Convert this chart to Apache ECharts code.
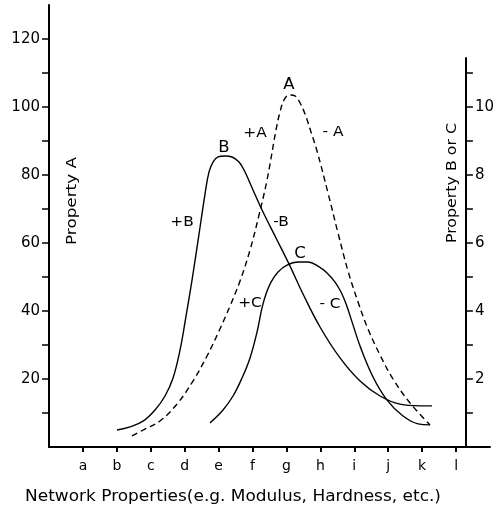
<!DOCTYPE html>
<html>
<head>
<meta charset="utf-8">
<script src="https://cdn.jsdelivr.net/npm/echarts@6/dist/echarts.min.js"></script>
<style>
html,body{margin:0;padding:0;background:#fff;}
#c{width:497px;height:509px;}
</style>
</head>
<body>
<div id="c"></div>
<script>
// Category tick labels along the x axis (positions 1..12)
var categories = ['a','b','c','d','e','f','g','h','i','j','k','l'];
var leftTicks = [20, 40, 60, 80, 100, 120];
var rightTicks = [2, 4, 6, 8, 10];

// Property A (dashed, left axis)
var aX = [2.447, 2.830, 3.272, 3.774, 4.245, 4.658, 5.012, 5.336, 5.631, 5.926, 6.191, 6.427, 6.692, 6.810, 6.928, 7.075, 7.252, 7.400, 7.547, 7.724, 7.901, 8.225, 8.520, 8.815, 9.110, 9.404, 9.758, 10.142, 10.643, 11.232];
var aY = [3.24, 5.29, 7.65, 12.65, 19.41, 26.76, 34.12, 41.47, 48.82, 57.94, 68.24, 78.53, 93.24, 98.53, 102.06, 103.53, 103.24, 101.18, 97.94, 92.65, 87.06, 74.71, 62.94, 51.76, 42.65, 34.71, 27.06, 20.0, 12.94, 6.47];

// Property B (solid, right axis)
var bX = [2.005, 2.388, 2.771, 3.125, 3.420, 3.656, 3.862, 4.039, 4.216, 4.422, 4.599, 4.717, 4.835, 4.982, 5.189, 5.395, 5.601, 5.778, 6.014, 6.309, 6.722, 7.105, 7.488, 7.989, 8.579, 9.169, 9.758, 10.348, 10.937, 11.291];
var bY = [0.50, 0.59, 0.76, 1.09, 1.50, 2.03, 2.85, 3.85, 4.91, 6.26, 7.44, 8.09, 8.38, 8.53, 8.56, 8.53, 8.38, 8.09, 7.56, 6.91, 6.09, 5.32, 4.50, 3.53, 2.62, 1.94, 1.50, 1.26, 1.21, 1.21];

// Property C (solid, right axis)
var cX = [4.746, 5.130, 5.425, 5.690, 5.926, 6.132, 6.279, 6.397, 6.545, 6.751, 7.017, 7.341, 7.636, 7.930, 8.196, 8.432, 8.608, 8.756, 8.933, 9.169, 9.552, 9.965, 10.436, 10.879, 11.232];
var cY = [0.71, 1.09, 1.50, 2.03, 2.62, 3.38, 4.09, 4.50, 4.85, 5.15, 5.35, 5.44, 5.44, 5.32, 5.12, 4.85, 4.56, 4.21, 3.68, 2.97, 2.06, 1.38, 0.91, 0.68, 0.65];

function pairs(xs, ys){ return xs.map(function(x,i){ return [x, ys[i]]; }); }

var FONT = 'DejaVu Sans';
var chart = echarts.init(document.getElementById('c'), null, {renderer:'canvas'});

function axLine(){ return {show:true, onZero:false, lineStyle:{color:'#000', width:2}}; }
function txt(x, y, s, size, sx, rot){
  return {type:'text', x:x, y:y, rotation:rot||0, scaleX:sx||1,
    style:{text:s, font:size+'px '+FONT, fill:'#000', align:'center', verticalAlign:'middle'}};
}

chart.setOption({
  backgroundColor:'#fff',
  animation:false,
  grid:[
    {left:49, right:7, top:5, bottom:62, containLabel:false},
    {left:49, right:27, top:58, bottom:62, containLabel:false}
  ],
  xAxis:[
    {gridIndex:0, type:'value', min:0, max:13, interval:1,
     axisLine:axLine(),
     axisTick:{show:true, length:5, lineStyle:{color:'#000', width:2}, customValues:[1,2,3,4,5,6,7,8,9,10,11,12]},
     axisLabel:{show:true, margin:12, color:'#000', fontFamily:FONT, fontSize:14,
       customValues:[1,2,3,4,5,6,7,8,9,10,11,12],
       formatter:function(v){ return categories[Math.round(v)-1] || ''; }},
     splitLine:{show:false}},
    {gridIndex:1, type:'value', min:0, max:1, show:false}
  ],
  yAxis:[
    {gridIndex:0, type:'value', position:'left', min:0, max:130, interval:10,
     axisLine:axLine(),
     axisTick:{show:true, length:7, lineStyle:{color:'#000', width:1.5}, customValues:[10,20,30,40,50,60,70,80,90,100,110,120]},
     axisLabel:{show:true, margin:9, color:'#000', fontFamily:FONT, fontSize:15, customValues:leftTicks},
     splitLine:{show:false}},
    {gridIndex:0, type:'value', position:'right', min:0, max:13, show:false},
    {gridIndex:1, type:'value', position:'right', min:0, max:11.44, interval:1,
     axisLine:axLine(),
     axisTick:{show:true, length:7, lineStyle:{color:'#000', width:1.5}, customValues:[1,2,3,4,5,6,7,8,9,10,11]},
     axisLabel:{show:true, margin:9, color:'#000', fontFamily:FONT, fontSize:15, customValues:rightTicks},
     splitLine:{show:false}}
  ],
  series:[
    {name:'A', type:'line', xAxisIndex:0, yAxisIndex:0, data:pairs(aX,aY), smooth:0.4, showSymbol:false, symbol:'none',
     lineStyle:{color:'#000', width:1.4, type:[6,4]}},
    {name:'B', type:'line', xAxisIndex:0, yAxisIndex:1, data:pairs(bX,bY), smooth:0.4, showSymbol:false, symbol:'none',
     lineStyle:{color:'#000', width:1.4}},
    {name:'C', type:'line', xAxisIndex:0, yAxisIndex:1, data:pairs(cX,cY), smooth:0.4, showSymbol:false, symbol:'none',
     lineStyle:{color:'#000', width:1.4}}
  ],
  graphic:[
    txt(72, 201, 'Property A', 14, 1.2, Math.PI/2),
    txt(452, 183, 'Property B or C', 14, 1.13, Math.PI/2),
    txt(233, 497, 'Network Properties(e.g. Modulus, Hardness, etc.)', 15, 1.13),
    txt(289, 85, 'A', 15, 1.1),
    txt(255, 133, '+A', 14, 1.1),
    txt(333, 132, '- A', 14, 1.1),
    txt(224, 148, 'B', 15, 1.1),
    txt(182, 222, '+B', 14, 1.1),
    txt(281, 222, '-B', 14, 1.1),
    txt(300, 254, 'C', 15, 1.1),
    txt(250, 303, '+C', 14, 1.1),
    txt(330, 304, '- C', 14, 1.1)
  ]
});
</script>
</body>
</html>
